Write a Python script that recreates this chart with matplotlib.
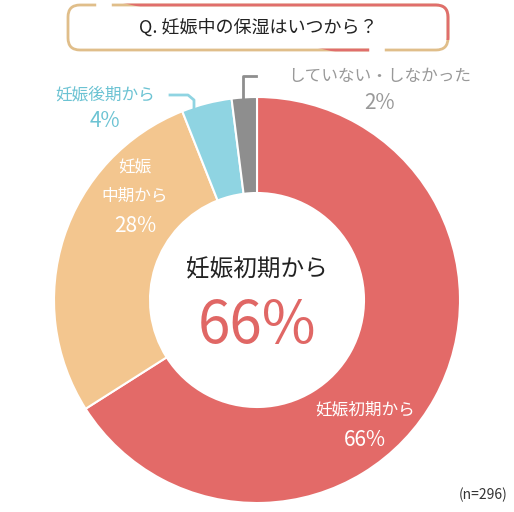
import matplotlib
matplotlib.use("Agg")
import matplotlib.pyplot as plt
from matplotlib.patches import FancyBboxPatch

plt.rcParams['font.family'] = ['Noto Sans CJK JP', 'DejaVu Sans']

categories = ["妊娠初期から", "妊娠中期から", "妊娠後期から", "していない・しなかった"]
values = [66, 28, 4, 2]
colors = ["#E36A68", "#F3C68F", "#8FD4E2", "#8E8E8E"]
title = "Q. 妊娠中の保湿はいつから？"
note = "(n=296)"

W, H = 514, 512
fig = plt.figure(figsize=(W/100, H/100), dpi=100)
cx, cy, R = 257, 300, 203
pax = fig.add_axes([(cx-R)/W, (H-cy-R)/H, 2*R/W, 2*R/H])
pax.pie(values, colors=colors, startangle=90, counterclock=False,
        wedgeprops=dict(width=R-107 and (R-107)/R, edgecolor="white", linewidth=1.5))
pax.set_xlim(-1, 1); pax.set_ylim(-1, 1); pax.set_aspect("equal"); pax.axis("off")

ax = fig.add_axes([0, 0, 1, 1], facecolor="none")
ax.set_xlim(0, W); ax.set_ylim(H, 0); ax.axis("off")

# title box: tan left portion, red right portion
ax.plot([95, 70, 70, 95], [4, 4, 4, 4], alpha=0)
box = FancyBboxPatch((68, 5), 380, 45, boxstyle="round,pad=0,rounding_size=12",
                     fill=False, edgecolor="#E0BE8A", linewidth=2)
ax.add_patch(box)
box2 = FancyBboxPatch((68, 5), 380, 45, boxstyle="round,pad=0,rounding_size=12",
                      fill=False, edgecolor="#E06E6C", linewidth=2)
box2.set_clip_path(plt.Polygon([[110, 0], [514, 0], [514, 40], [380, 40], [380, 60], [370, 60], [370, 60]], closed=True, transform=ax.transData))
ax.add_patch(box2)
# gaps
ax.plot([99, 109], [5, 5], color="white", lw=4)
ax.plot([372, 382], [50, 50], color="white", lw=4)
ax.text(258, 28, title, ha="center", va="center", fontsize=13, color="#222222")

ax.text(257, 270, categories[0], ha="center", va="center", fontsize=17, color="#222222")
ax.text(257, 326, f"{values[0]}%", ha="center", va="center", fontsize=42, color="#E06765")

ax.text(365, 410, categories[0], ha="center", va="center", fontsize=12, color="white")
ax.text(365, 440, f"{values[0]}%", ha="center", va="center", fontsize=15, color="white")

ax.text(135, 168, "妊娠", ha="center", va="center", fontsize=12, color="white")
ax.text(135, 196, "中期から", ha="center", va="center", fontsize=12, color="white")
ax.text(135, 226, f"{values[1]}%", ha="center", va="center", fontsize=15, color="white")

ax.text(105, 95, categories[2], ha="center", va="center", fontsize=12, color="#6CC3D3")
ax.text(105, 121, f"{values[2]}%", ha="center", va="center", fontsize=15, color="#6CC3D3")
ax.plot([170, 188, 194, 194], [95, 95, 100, 108], color="#8FD4E2", lw=2)

ax.text(380, 76, categories[3], ha="center", va="center", fontsize=12, color="#999999")
ax.text(380, 103, f"{values[3]}%", ha="center", va="center", fontsize=15, color="#999999")
ax.plot([256, 243, 243], [76, 76, 98], color="#8E8E8E", lw=2)

ax.text(508, 495, note, ha="right", va="center", fontsize=10, color="#333333")

fig.savefig("out.png", dpi=100)
